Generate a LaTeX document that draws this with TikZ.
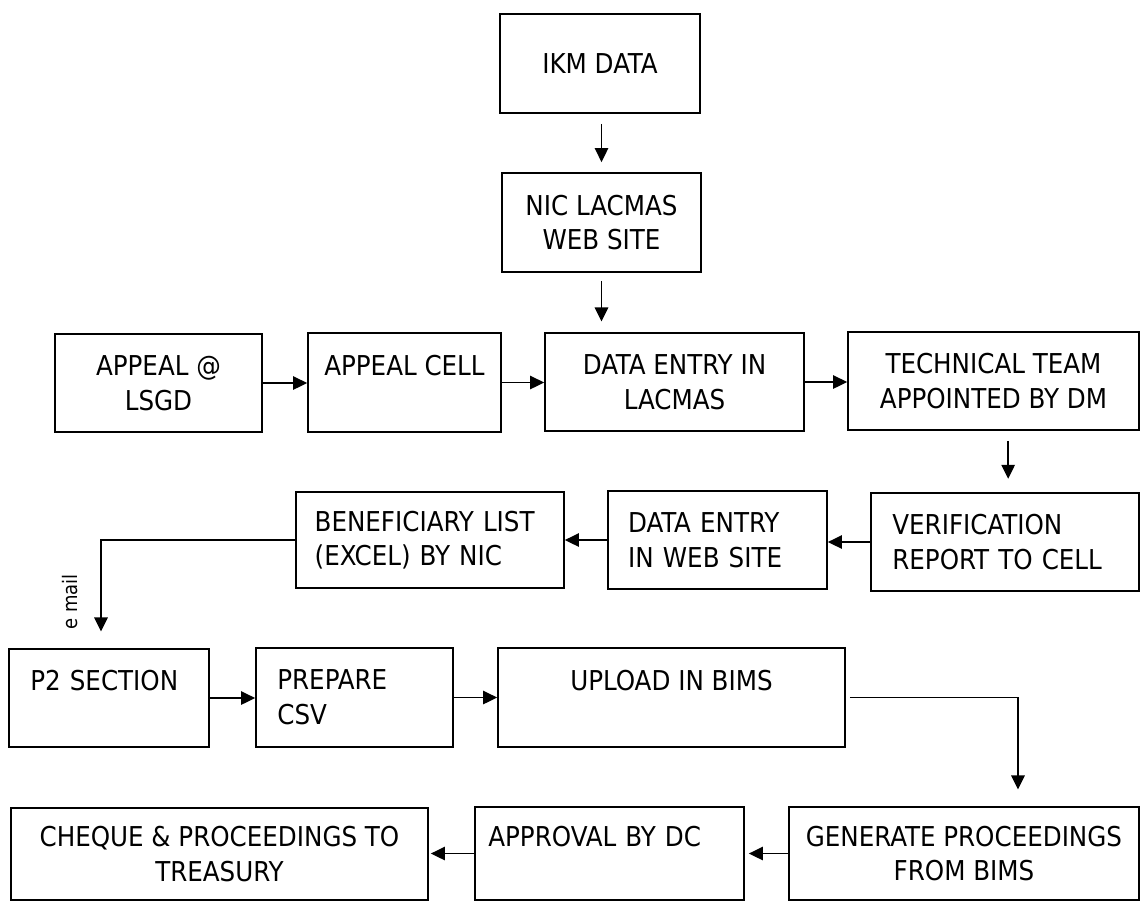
\documentclass[tikz,border=0pt]{standalone}
\usepackage{fontspec}
\setmainfont{DejaVu Sans Condensed}
\usetikzlibrary{arrows.meta}

\begin{document}
\begin{tikzpicture}[x=0.75pt, y=-0.75pt, >={Triangle[length=10.5pt,width=10pt]},
  base/.style={draw, line width=1.3pt, inner sep=0pt, minimum height=73.5pt, font=\fontsize{20.5}{26}\selectfont},
  box/.style={base, align=center},
  lbox/.style={base, align=left},
  flow/.style={->, line width=1.3pt}]

\fill[white] (0,0) rectangle (1141,904);
\useasboundingbox (0,0) rectangle (1141,904);

% Knoten
\node[box, minimum width=150pt, minimum height=74.25pt] (ikm) at (600,63.5) {IKM DATA};
\node[box, minimum width=149.25pt, minimum height=74.25pt] (nic) at (601.5,222.5) {NIC LACMAS\\WEB SITE};

\node[box, minimum width=155.25pt] (lsgd) at (158.5,383) {APPEAL @\\LSGD};
\node[box, minimum width=144.75pt, minimum height=74.25pt] (cell) at (404.5,382.5) {APPEAL CELL\\\phantom{X}};
\node[box, minimum width=194.25pt] (lacmas) at (674.5,382) {DATA ENTRY IN\\LACMAS};
\node[box, minimum width=218.25pt] (tech) at (993.5,381) {TECHNICAL TEAM\\APPOINTED BY DM};

\node[lbox, minimum width=201pt, minimum height=72pt, text width=173pt] (benef) at (430,540) {BENEFICIARY LIST\\(EXCEL) BY NIC};
\node[lbox, minimum width=164.25pt, text width=134pt] (website) at (717.5,540) {DATA ENTRY\\IN WEB SITE};
\node[lbox, minimum width=201pt, text width=169pt] (verif) at (1005,542) {VERIFICATION\\REPORT TO CELL};

\node[lbox, minimum width=150pt, text width=118pt] (p2) at (109,698) {P2 SECTION\\\phantom{X}};
\node[lbox, minimum width=147.75pt, minimum height=74.25pt, text width=115.75pt] (csv) at (354.5,697.5) {PREPARE\\CSV};
\node[box, minimum width=260.25pt, minimum height=74.25pt] (upload) at (671.5,697.5) {UPLOAD IN BIMS\\\phantom{X}};

\node[box, minimum width=312.75pt, minimum height=69pt] (cheque) at (219.5,854) {CHEQUE \& PROCEEDINGS TO\\TREASURY};
\node[lbox, minimum width=201.75pt, minimum height=69.75pt, text width=181.75pt] (approval) at (609.5,853.5) {APPROVAL BY DC\\\phantom{X}};
\node[box, minimum width=262.5pt, minimum height=69.75pt] (generate) at (964,853.5) {GENERATE PROCEEDINGS\\FROM BIMS};

\node[rotate=90, font=\fontsize{15}{17}\selectfont] (email) at (70,602) {e mail};
\coordinate (mailturn) at (101,540);

% Verbindungen
\draw[flow, shorten <=7.5pt, shorten >=7.5pt] (ikm.south -| nic.south) -- (nic.north);
\draw[flow, shorten <=6pt, shorten >=8pt] (nic.south) -- (nic.south |- lacmas.north);

\draw[flow] (lsgd.east) -- (lsgd.east -| cell.west);
\draw[flow] (cell.east) -- (cell.east -| lacmas.west);
\draw[flow] (lacmas.east) -- (lacmas.east -| tech.west);
\draw[flow, shorten <=7.5pt, shorten >=10pt] ([xshift=11pt]tech.south) -- ([xshift=11pt]tech.south |- verif.north);

\draw[flow] (verif.west) -- (verif.west -| website.east);
\draw[flow] (website.west) -- (website.west -| benef.east);
\draw[flow, shorten >=12.5pt] (benef.west |- mailturn) -- (mailturn) -- (mailturn |- p2.north);

\draw[flow] (p2.east) -- (p2.east -| csv.west);
\draw[flow] (csv.east) -- (csv.east -| upload.west);
\draw[flow, shorten >=12.5pt] ([xshift=3pt]upload.east) -| ([xshift=40.5pt]generate.north);

\draw[flow, shorten >=3pt] (generate.west) -- (generate.west -| approval.east);
\draw[flow, shorten >=1.5pt] (approval.west) -- (approval.west -| cheque.east);

\end{tikzpicture}
\end{document}
